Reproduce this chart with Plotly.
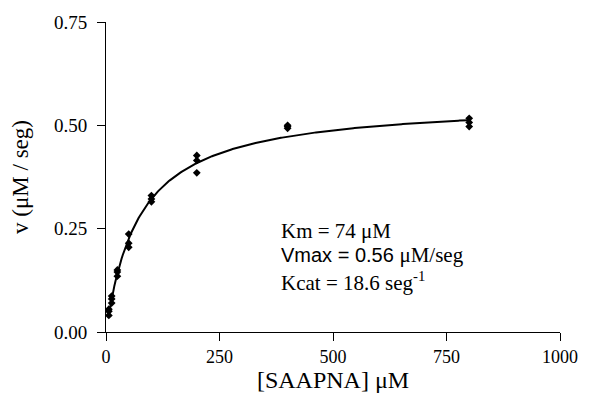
import numpy as np
import plotly.graph_objects as go

# Substrate concentrations (uM), triplicates
conc = [6.25, 6.25, 6.25, 12.5, 12.5, 12.5, 25, 25, 25, 50, 50, 50,
        100, 100, 100, 200, 200, 200, 400, 400, 400, 800, 800, 800]
rate = [0.040, 0.050, 0.055, 0.070, 0.080, 0.087, 0.135, 0.145, 0.150,
        0.205, 0.215, 0.237, 0.315, 0.322, 0.330, 0.385, 0.415, 0.427,
        0.493, 0.497, 0.500, 0.497, 0.507, 0.517]

# Fitted Michaelis-Menten parameters shown on the chart
Km = 74.0
Vmax = 0.56
fit_x = np.linspace(5, 800, 300)
fit_y = Vmax * fit_x / (Km + fit_x)

x_ticks = [0, 250, 500, 750, 1000]
y_ticks = [0.0, 0.25, 0.5, 0.75]
y_labels = ["0.00", "0.25", "0.50", "0.75"]

TIMES = "Liberation Serif"
ARIAL = "Liberation Sans"

fig = go.Figure()
fig.add_trace(go.Scatter(x=fit_x, y=fit_y, mode="lines",
                         line=dict(color="black", width=2), cliponaxis=False,
                         showlegend=False, hoverinfo="skip"))
fig.add_trace(go.Scatter(x=conc, y=rate, mode="markers",
                         marker=dict(symbol="diamond", size=6, color="black"),
                         cliponaxis=False, showlegend=False))

fig.update_layout(
    width=590, height=399,
    margin=dict(l=106, r=22, t=20, b=67),
    paper_bgcolor="white", plot_bgcolor="white",
    font=dict(family=TIMES, size=18, color="black"),
    xaxis=dict(range=[0, 1000], tickvals=x_ticks, showgrid=False, zeroline=False,
               showline=True, linecolor="black", linewidth=1,
               ticks="outside", ticklen=8, tickcolor="black",
               tickfont=dict(family=TIMES, size=18),
               title=dict(text="[SAAPNA] μM", font=dict(family=TIMES, size=24), standoff=0)),
    yaxis=dict(range=[0, 0.75], tickvals=y_ticks, ticktext=y_labels, showgrid=False,
               zeroline=False, showline=True, linecolor="black", linewidth=1,
               ticks="outside", ticklen=8, tickcolor="black", ticklabelstandoff=6,
               tickfont=dict(family=TIMES, size=19),
               title=dict(text="v (μM / seg)", font=dict(family=TIMES, size=23), standoff=18)),
)

x0 = (282 - 106) / 462
fig.add_annotation(xref="paper", yref="paper", x=x0, y=(332-230)/312,
                   xanchor="left", yanchor="middle", showarrow=False,
                   text="Km = 74 μM", font=dict(family=TIMES, size=21))
fig.add_annotation(xref="paper", yref="paper", x=x0, y=(332-255)/312,
                   xanchor="left", yanchor="middle", showarrow=False,
                   text="Vmax = 0.56 <span style='font-family:Liberation Serif; font-size:21px'>μM/seg</span>",
                   font=dict(family=ARIAL, size=20))
fig.add_annotation(xref="paper", yref="paper", x=x0, y=(332-281)/312,
                   xanchor="left", yanchor="middle", showarrow=False,
                   text="Kcat = 18.6 seg<sup>-1</sup>", font=dict(family=TIMES, size=21))

fig.write_html("out.html")
